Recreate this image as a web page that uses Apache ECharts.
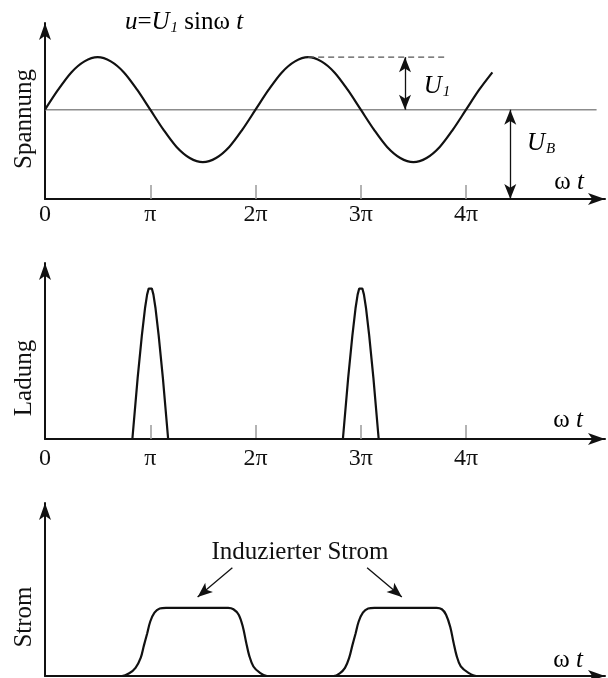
<!DOCTYPE html>
<html>
<head>
<meta charset="utf-8">
<script src="https://cdn.jsdelivr.net/npm/echarts@6/dist/echarts.min.js"></script>
<style>html,body{margin:0;padding:0;background:#fff;}#c{width:608px;height:678px;}</style>
</head>
<body>
<div id="c"></div>
<script>
// ---- data (x in units of pi) ----
const tickLabels = ['0', 'π', '2π', '3π', '4π'];
const tickValues = [0, 1, 2, 3, 4];

// Spannung: bias U_B plus sine of amplitude U_1 (U_1 = 1)
const spannungT = [0, 0.125, 0.25, 0.375, 0.5, 0.625, 0.75, 0.875, 1, 1.125, 1.25, 1.375, 1.5, 1.625, 1.75, 1.875,
  2, 2.125, 2.25, 2.375, 2.5, 2.625, 2.75, 2.875, 3, 3.125, 3.25, 3.375, 3.5, 3.625, 3.75, 3.875, 4, 4.125, 4.25];
const spannungU = [1.70, 2.08, 2.41, 2.62, 2.70, 2.62, 2.41, 2.08, 1.70, 1.32, 0.99, 0.78, 0.70, 0.78, 0.99, 1.32,
  1.70, 2.08, 2.41, 2.62, 2.70, 2.62, 2.41, 2.08, 1.70, 1.32, 0.99, 0.78, 0.70, 0.78, 0.99, 1.32, 1.70, 2.08, 2.41];
const biasUB = 1.7;
const peakU = 2.7;

// Ladung pulses
const ladungT = [0, 0.83, 0.88, 0.92, 0.95, 0.97, 0.985, 1.0, 1.015, 1.03, 1.05, 1.08, 1.12, 1.17,
  2.83, 2.88, 2.92, 2.95, 2.97, 2.985, 3.0, 3.015, 3.03, 3.05, 3.08, 3.12, 3.17, 5.32];
const ladungQ = [0, 0, 0.40, 0.68, 0.86, 0.95, 0.99, 1.0, 0.99, 0.95, 0.86, 0.68, 0.40, 0,
  0, 0.40, 0.68, 0.86, 0.95, 0.99, 1.0, 0.99, 0.95, 0.86, 0.68, 0.40, 0, 0];

// Induzierter Strom pulses
const stromT = [0, 0.73, 0.80, 0.86, 0.91, 0.94, 0.97, 1.00, 1.04, 1.09, 1.15, 1.74, 1.79, 1.84, 1.88, 1.91, 1.94, 1.98, 2.04, 2.11,
  2.74, 2.80, 2.85, 2.89, 2.92, 2.95, 2.98, 3.02, 3.07, 3.13, 3.72, 3.77, 3.81, 3.85, 3.88, 3.91, 3.95, 4.02, 4.10, 5.32];
const stromI = [0, 0, 0.04, 0.12, 0.27, 0.45, 0.62, 0.80, 0.93, 0.99, 1.0, 1.0, 0.98, 0.90, 0.72, 0.50, 0.30, 0.14, 0.05, 0,
  0, 0.04, 0.12, 0.27, 0.45, 0.62, 0.80, 0.93, 0.99, 1.0, 1.0, 0.98, 0.90, 0.72, 0.50, 0.30, 0.14, 0.05, 0, 0];

// ---- helpers ----
const zip = (a, b) => a.map((v, i) => [v, b[i]]);
const SERIF = 'Liberation Serif';
const INK = '#111';
const XMAX = 5.32;
const BASE_END = 5.24;

function xAxisCfg(gridIndex, withTicks, labelMargin) {
  return {
    type: 'value', gridIndex, min: 0, max: XMAX,
    axisLine: { show: true, onZero: false, symbol: ['none', 'arrow'], symbolSize: [9, 17],
      lineStyle: { color: INK, width: 2 } },
    axisTick: { show: withTicks, inside: true, length: 14, customValues: [1, 2, 3, 4],
      lineStyle: { color: '#9a9a9a', width: 1.5 } },
    axisLabel: { show: withTicks, customValues: tickValues, margin: labelMargin,
      formatter: v => tickLabels[Math.round(v)] || '',
      fontFamily: SERIF, fontSize: 24, color: INK },
    splitLine: { show: false }
  };
}
function yAxisCfg(gridIndex, max) {
  return {
    type: 'value', gridIndex, min: 0, max,
    axisLine: { show: true, onZero: false, symbol: ['none', 'arrow'], symbolSize: [9, 17],
      lineStyle: { color: INK, width: 2 } },
    axisTick: { show: false }, axisLabel: { show: false }, splitLine: { show: false }
  };
}

const txt = (x, y, text, size, opts = {}) => ({
  type: 'text', x, y, rotation: opts.rotation || 0, silent: true,
  style: Object.assign({ text, fill: INK, align: 'center', verticalAlign: 'middle',
    font: (opts.italic ? 'italic ' : '') + size + 'px "' + SERIF + '"' }, opts.style || {})
});

const subRich = {
  i: { fontFamily: SERIF, fontStyle: 'italic', fontSize: 25, lineHeight: 28, verticalAlign: 'middle', color: INK },
  n: { fontFamily: SERIF, fontSize: 25, lineHeight: 28, verticalAlign: 'middle', color: INK },
  s: { fontFamily: SERIF, fontStyle: 'italic', fontSize: 15, lineHeight: 18, padding: [14, 0, 0, 1], verticalAlign: 'bottom', color: INK }
};

const option = {
  animation: false,
  backgroundColor: '#fff',
  grid: [
    { left: 45, right: 3, top: 23, bottom: 479 },
    { left: 45, right: 3, top: 263, bottom: 239 },
    { left: 45, right: 3, top: 503, bottom: 2 }
  ],
  xAxis: [xAxisCfg(0, true, 4), xAxisCfg(1, true, 8), xAxisCfg(2, false, 8)],
  yAxis: [yAxisCfg(0, 3.35), yAxisCfg(1, 1.158), yAxisCfg(2, 2.54)],
  series: [
    { name: 'U_B', type: 'line', xAxisIndex: 0, yAxisIndex: 0, symbol: 'none', silent: true,
      data: [[0, biasUB], [BASE_END, biasUB]], lineStyle: { color: '#8c8c8c', width: 1.5 }, z: 1 },
    { name: 'Spannung', type: 'line', xAxisIndex: 0, yAxisIndex: 0, symbol: 'none', smooth: 0.3,
      data: zip(spannungT, spannungU), lineStyle: { color: INK, width: 2.2 }, z: 3 },
    { name: 'Scheitel', type: 'line', xAxisIndex: 0, yAxisIndex: 0, symbol: 'none', silent: true,
      data: [[2.5, peakU], [3.8, peakU]], lineStyle: { color: '#555', width: 1.2, type: [6, 4] },
      markLine: { silent: true, symbol: ['arrow', 'arrow'], symbolSize: [9, 15],
        lineStyle: { color: INK, width: 1.3, type: 'solid' }, label: { show: false },
        data: [
          [{ coord: [3.42, peakU] }, { coord: [3.42, biasUB] }],
          [{ coord: [4.42, biasUB] }, { coord: [4.42, 0] }]
        ] } },
    { name: 'Ladung', type: 'line', xAxisIndex: 1, yAxisIndex: 1, symbol: 'none',
      data: zip(ladungT, ladungQ), lineStyle: { color: INK, width: 2.2 } },
    { name: 'Strom', type: 'line', xAxisIndex: 2, yAxisIndex: 2, symbol: 'none', smooth: 0.35,
      data: zip(stromT, stromI), lineStyle: { color: INK, width: 2.2 },
      markLine: { silent: true, symbol: ['none', 'arrow'], symbolSize: [9, 15],
        lineStyle: { color: INK, width: 1.3, type: 'solid' }, label: { show: false },
        data: [
          [{ coord: [1.78, 1.59] }, { coord: [1.45, 1.16] }],
          [{ coord: [3.06, 1.59] }, { coord: [3.39, 1.16] }]
        ] } }
  ],
  graphic: [
    { type: 'text', x: 184, y: 22, silent: true,
      style: { text: '{i|u}{n|=}{i|U}{s|1}{n| sinω }{i|t}', rich: subRich, align: 'center', verticalAlign: 'middle' } },
    { type: 'text', x: 437, y: 86, silent: true,
      style: { text: '{i|U}{s|1}', rich: subRich, align: 'center', verticalAlign: 'middle' } },
    { type: 'text', x: 541, y: 143, silent: true,
      style: { text: '{i|U}{s|B}', rich: subRich, align: 'center', verticalAlign: 'middle' } },
    { type: 'text', x: 569, y: 182, silent: true,
      style: { text: '{n|ω }{i|t}', rich: subRich, align: 'center', verticalAlign: 'middle' } },
    { type: 'text', x: 568, y: 420, silent: true,
      style: { text: '{n|ω }{i|t}', rich: subRich, align: 'center', verticalAlign: 'middle' } },
    { type: 'text', x: 568, y: 660, silent: true,
      style: { text: '{n|ω }{i|t}', rich: subRich, align: 'center', verticalAlign: 'middle' } },
    txt(24, 119, 'Spannung', 25, { rotation: Math.PI / 2 }),
    txt(24, 378, 'Ladung', 25, { rotation: Math.PI / 2 }),
    txt(24, 617, 'Strom', 25, { rotation: Math.PI / 2 }),
    txt(300, 552, 'Induzierter Strom', 25)
  ]
};

const chart = echarts.init(document.getElementById('c'), null, { renderer: 'canvas' });
chart.setOption(option);
</script>
</body>
</html>
